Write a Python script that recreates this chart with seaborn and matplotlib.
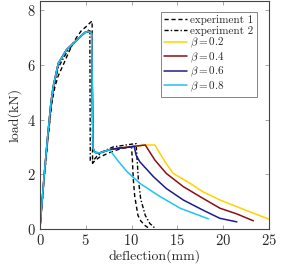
import numpy as np
import matplotlib.pyplot as plt
import seaborn as sns

# experimental curves
exp1_x = [0, 0.45, 0.9, 1.3, 1.64, 2.0, 2.55, 3.0, 3.6, 4.0, 4.55, 5.0, 5.45, 5.7, 5.75, 6.0, 6.5, 7.5, 8.5, 9.5, 10.0,
          10.1, 10.2, 10.35, 10.7, 11.0, 11.5, 11.8]
exp1_y = [0, 1.8, 3.4, 4.6, 5.2, 5.6, 6.0, 6.35, 6.78, 7.0, 7.26, 7.38, 7.53, 7.6, 2.4, 2.5, 2.62, 2.78, 2.9, 2.98, 3.0,
          2.5, 1.8, 1.2, 0.5, 0.3, 0.12, 0.05]
exp2_x = [0, 0.45, 0.9, 1.4, 2.0, 3.0, 4.0, 5.0, 5.45, 5.5, 5.7, 6.2, 7.0, 8.0, 9.0, 10.0, 10.5,
          10.6, 10.75, 11.0, 11.5, 12.0, 12.5]
exp2_y = [0, 1.8, 3.4, 5.0, 5.9, 6.5, 6.9, 7.2, 7.3, 2.5, 2.45, 2.65, 2.85, 3.0, 3.05, 3.1, 3.12,
          2.6, 1.8, 1.1, 0.5, 0.2, 0.05]

# common part of the simulated curves (rise, drop, start of plateau)
sim_x = [0, 0.45, 0.85, 1.2, 1.45, 2.0, 2.9, 4.0, 4.9, 5.3, 5.65, 5.8, 6.0, 6.5, 7.0, 7.6]
sim_y = [0, 1.9, 3.4, 4.6, 5.2, 6.05, 6.55, 6.9, 7.18, 7.22, 7.15, 2.95, 2.8, 2.78, 2.83, 2.9]

b02_x = [8.5, 9.5, 10.5, 11.5, 12.55, 13.65, 14.55, 16.4, 17.8, 19.65, 22.0, 25.0]
b02_y = [2.95, 2.99, 3.03, 3.07, 3.07, 2.46, 2.03, 1.67, 1.36, 1.06, 0.75, 0.36]
b04_x = [8.5, 9.5, 10.5, 11.5, 12.55, 13.8, 15.65, 17.8, 19.65, 21.5, 23.3]
b04_y = [2.95, 2.99, 3.03, 3.07, 2.52, 2.03, 1.55, 1.12, 0.76, 0.55, 0.3]
b06_x = [8.5, 9.5, 10.3, 10.5, 10.9, 12.4, 13.8, 15.65, 17.8, 19.65, 21.5]
b06_y = [2.95, 2.98, 3.02, 2.7, 2.46, 1.91, 1.48, 1.06, 0.69, 0.39, 0.26]
b08_x = [8.5, 9.5, 10.9, 13.1, 15.3, 18.4]
b08_y = [2.5, 2.1, 1.67, 1.19, 0.76, 0.37]

betas = ["0.2", "0.4", "0.6", "0.8"]
colors = ["#FFD200", "#8B1010", "#1C1C8C", "#1EC4F2"]

sns.set_style("ticks")
plt.rcParams["font.family"] = ["cmr10", "DejaVu Serif"]
plt.rcParams["mathtext.fontset"] = "cm"
plt.rcParams["axes.formatter.use_mathtext"] = True

fig = plt.figure(figsize=(2.81, 2.71), dpi=100)
ax = fig.add_axes([0.142, 0.155, 0.815, 0.841])

sns.lineplot(x=exp1_x, y=exp1_y, sort=False, estimator=None, color="black", lw=1.0,
             linestyle=(0, (3, 2)), label="experiment 1", ax=ax)
sns.lineplot(x=exp2_x, y=exp2_y, sort=False, estimator=None, color="black", lw=1.0,
             linestyle=(0, (3, 1.5, 1, 1.5)), label="experiment 2", ax=ax)
for bx, by, b, c in zip([b02_x, b04_x, b06_x, b08_x], [b02_y, b04_y, b06_y, b08_y], betas, colors):
    sns.lineplot(x=sim_x + bx, y=sim_y + by, sort=False, estimator=None, color=c, lw=1.1,
                 label=r"$\beta = %s$" % b, ax=ax)

ax.set_xlim(0, 25)
ax.set_ylim(0, 8.33)
ax.set_xticks([0, 5, 10, 15, 20, 25])
ax.set_yticks([0, 2, 4, 6, 8])
ax.set_xlabel("deflection(mm)", fontsize=10, labelpad=1)
ax.set_ylabel("load(kN)", fontsize=10, labelpad=4)
ax.tick_params(direction="in", top=True, right=True, length=3, width=0.6, labelsize=10.5, pad=3,
               color="#999999")
for s in ax.spines.values():
    s.set_color("#444444")
    s.set_linewidth(0.8)

leg = ax.legend(loc="upper right", bbox_to_anchor=(0.948, 0.952), fontsize=8, frameon=True,
                fancybox=False, handlelength=2.0, handletextpad=0.35, borderpad=0.3,
                labelspacing=0.02, borderaxespad=0)
leg.get_frame().set_edgecolor("#666666")
leg.get_frame().set_linewidth(0.7)

plt.savefig("out.png", dpi=100)
